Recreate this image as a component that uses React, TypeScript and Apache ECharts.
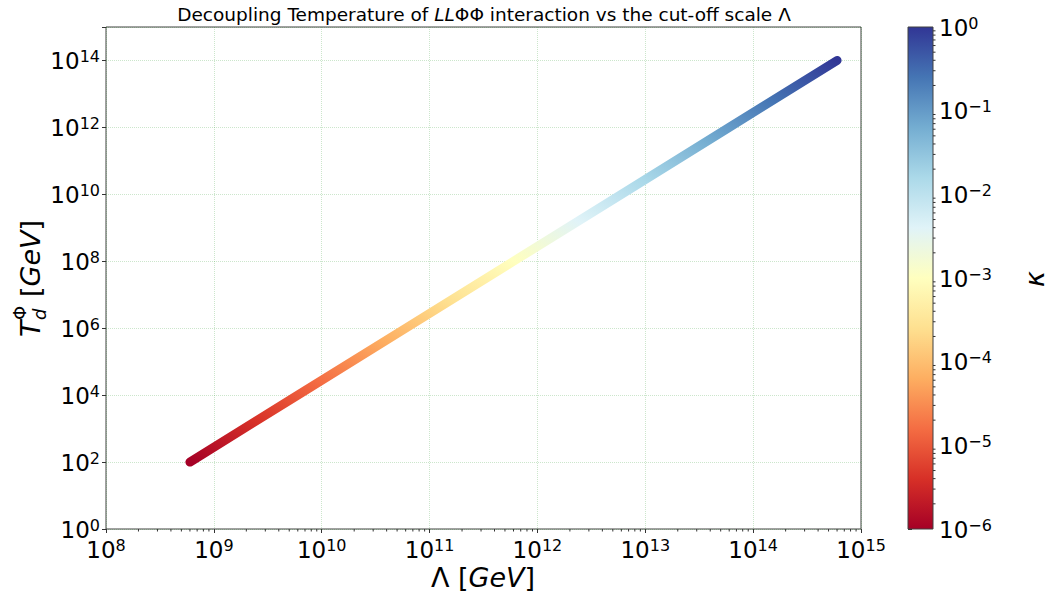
import React, { useEffect, useRef } from 'react';
import * as echarts from 'echarts';

// ---- data ----
const LAMBDA_GEV = [6.0e8, 6.0e9, 6.0e10, 6.0e11, 6.0e12, 6.0e13, 6.0e14];
const T_DEC_GEV = [1e2, 1e4, 1e6, 1e8, 1e10, 1e12, 1e14];
const KAPPA = [1e-6, 1e-5, 1e-4, 1e-3, 1e-2, 1e-1, 1];

// axis ranges / ticks
const X_MIN = 1e8;
const X_MAX = 1e15;
const Y_MIN = 1;
const Y_MAX = 1e15;
const K_MIN = 1e-6;
const K_MAX = 1;
const X_DECADES = [1e8, 1e9, 1e10, 1e11, 1e12, 1e13, 1e14];
const K_DECADES = [1e-6, 1e-5, 1e-4, 1e-3, 1e-2, 1e-1];
const MINOR_MULT = [2, 3, 4, 5, 6, 7, 8, 9];

// RdYlBu colormap anchors (0 -> 1)
const RDYLBU = ['#a50026', '#d73027', '#f46d43', '#fdae61', '#fee090', '#ffffbf', '#e0f3f8', '#abd9e9', '#74add1', '#4575b4', '#313695'];

const FONT = 'DejaVu Sans';

function hexToRgb(h: string) {
  const n = parseInt(h.slice(1), 16);
  return [(n >> 16) & 255, (n >> 8) & 255, n & 255];
}
function cmap(f: number) {
  const t = Math.max(0, Math.min(1, f)) * (RDYLBU.length - 1);
  const i = Math.min(Math.floor(t), RDYLBU.length - 2);
  const r = t - i;
  const a = hexToRgb(RDYLBU[i]);
  const b = hexToRgb(RDYLBU[i + 1]);
  const c = a.map((v, k) => Math.round(v + (b[k] - v) * r));
  return `rgb(${c[0]},${c[1]},${c[2]})`;
}

const lg = Math.log10;

// kappa (log) at a given log lambda, interpolated from the data points
function logKappaAt(lx: number) {
  const xs = LAMBDA_GEV.map(lg);
  const ks = KAPPA.map(lg);
  if (lx <= xs[0]) return ks[0];
  for (let i = 0; i < xs.length - 1; i++) {
    if (lx <= xs[i + 1]) {
      const r = (lx - xs[i]) / (xs[i + 1] - xs[i]);
      return ks[i] + (ks[i + 1] - ks[i]) * r;
    }
  }
  return ks[ks.length - 1];
}

function lineStops() {
  const x0 = lg(LAMBDA_GEV[0]);
  const x1 = lg(LAMBDA_GEV[LAMBDA_GEV.length - 1]);
  const stops: { offset: number; color: string }[] = [];
  const N = 40;
  for (let i = 0; i <= N; i++) {
    const s = i / N;
    const lk = logKappaAt(x0 + (x1 - x0) * s);
    stops.push({ offset: s, color: cmap((lk - lg(K_MIN)) / (lg(K_MAX) - lg(K_MIN))) });
  }
  return stops;
}

const tickRich = {
  b: { fontSize: 23, fontFamily: FONT, color: '#000', lineHeight: 24, verticalAlign: 'bottom' },
  s: { fontSize: 16, fontFamily: FONT, color: '#000', lineHeight: 12, verticalAlign: 'top' },
};
function powLabel(v: number) {
  const e = Math.round(lg(v));
  return `{b|10}{s|${e < 0 ? '\u2212' + -e : e}}`;
}

export default function App() {
  const ref = useRef<HTMLDivElement>(null);
  useEffect(() => {
    if (!ref.current) return;
    const chart = echarts.init(ref.current, null, { renderer: 'svg' });

    const minorX: number[][] = [];
    X_DECADES.forEach((d) => MINOR_MULT.forEach((m) => minorX.push([d * m, Y_MIN])));
    const minorK: number[][] = [];
    K_DECADES.forEach((d) => MINOR_MULT.forEach((m) => minorK.push([1, d * m])));

    const cbStops = RDYLBU.map((c, i) => ({ offset: i / (RDYLBU.length - 1), color: c }));

    const option: any = {
      animation: false,
      backgroundColor: '#fff',
      grid: [
        { left: 106, top: 27, width: 755, height: 502, show: true, borderColor: '#404040', borderWidth: 1, backgroundColor: 'transparent' },
        { left: 908, top: 27, width: 25, height: 502, show: false },
      ],
      xAxis: [
        {
          type: 'log', logBase: 10, min: X_MIN, max: X_MAX, gridIndex: 0,
          axisLine: { show: false },
          axisTick: { show: true, length: 4, lineStyle: { color: '#333' } },
          splitLine: { show: true, lineStyle: { color: 'rgba(0,128,0,0.2)', type: 'dotted', width: 1 } },
          axisLabel: { margin: 8, formatter: powLabel, rich: tickRich, showMinLabel: true, showMaxLabel: true },
        },
        { type: 'value', min: 0, max: 1, gridIndex: 1, show: false },
      ],
      yAxis: [
        {
          type: 'log', logBase: 10, min: Y_MIN, max: Y_MAX, interval: 2, gridIndex: 0,
          axisLine: { show: false },
          axisTick: { show: true, length: 4, lineStyle: { color: '#333' } },
          splitLine: { show: true, lineStyle: { color: 'rgba(0,128,0,0.2)', type: 'dotted', width: 1 } },
          axisLabel: {
            margin: 6,
            formatter: (v: number) => (Math.round(lg(v)) % 2 === 0 ? powLabel(v) : ''),
            rich: tickRich, showMinLabel: true, showMaxLabel: true,
          },
        },
        {
          type: 'log', logBase: 10, min: K_MIN, max: K_MAX, interval: 1, gridIndex: 1, position: 'right',
          axisLine: { show: false },
          axisTick: { show: true, length: 4, lineStyle: { color: '#333' } },
          splitLine: { show: false },
          axisLabel: { margin: 6, formatter: powLabel, rich: tickRich, showMinLabel: true, showMaxLabel: true },
        },
      ],
      series: [
        {
          type: 'line', xAxisIndex: 0, yAxisIndex: 0, z: 5,
          data: LAMBDA_GEV.map((x, i) => [x, T_DEC_GEV[i]]),
          showSymbol: false, symbol: 'none', clip: false,
          lineStyle: { width: 9, cap: 'round', join: 'round', color: new echarts.graphic.LinearGradient(0, 1, 1, 0, lineStops()) },
        },
        {
          type: 'custom', xAxisIndex: 0, yAxisIndex: 0, clip: false, silent: true,
          data: minorX,
          renderItem: (params: any, api: any) => {
            const p = api.coord([api.value(0), api.value(1)]);
            return { type: 'line', shape: { x1: p[0], y1: p[1], x2: p[0], y2: p[1] + 2.5 }, style: { stroke: '#333', lineWidth: 1 } };
          },
        },
        {
          type: 'custom', xAxisIndex: 1, yAxisIndex: 1, clip: false, silent: true,
          data: [[0.5, 1e-3]],
          renderItem: (params: any, api: any) => {
            const p0 = api.coord([0, K_MIN]);
            const p1 = api.coord([1, K_MAX]);
            return {
              type: 'rect',
              shape: { x: p0[0], y: p1[1], width: p1[0] - p0[0], height: p0[1] - p1[1] },
              style: { fill: new echarts.graphic.LinearGradient(0, 1, 0, 0, cbStops), stroke: '#404040', lineWidth: 1 },
            };
          },
        },
        {
          type: 'custom', xAxisIndex: 1, yAxisIndex: 1, clip: false, silent: true,
          data: minorK,
          renderItem: (params: any, api: any) => {
            const p = api.coord([api.value(0), api.value(1)]);
            return { type: 'line', shape: { x1: p[0], y1: p[1], x2: p[0] + 2.5, y2: p[1] }, style: { stroke: '#333', lineWidth: 1 } };
          },
        },
      ],
      graphic: [
        {
          type: 'text', x: 484, y: 14,
          style: {
            text: '{n|Decoupling Temperature of }{i|LL}{n|\u03a6\u03a6 interaction vs the cut-off scale \u039b}',
            align: 'center', verticalAlign: 'middle',
            rich: {
              n: { fontSize: 18.5, fontFamily: FONT, color: '#000' },
              i: { fontSize: 18.5, fontFamily: FONT, fontStyle: 'italic', color: '#000' },
            },
          },
        },
        {
          type: 'text', x: 483, y: 577,
          style: {
            text: '{n|\u039b [}{i|GeV}{n|]}',
            align: 'center', verticalAlign: 'middle',
            rich: {
              n: { fontSize: 27, fontFamily: FONT, color: '#000', lineHeight: 26 },
              i: { fontSize: 27, fontFamily: FONT, fontStyle: 'italic', color: '#000', lineHeight: 26 },
            },
          },
        },
        {
          type: 'group', x: 30, y: 277, rotation: Math.PI / 2,
          children: [
            { type: 'text', x: -60, y: 0, style: { text: 'T', font: `italic 27px "${FONT}"`, fill: '#000', align: 'left', verticalAlign: 'middle' } },
            { type: 'text', x: -43, y: -11, style: { text: '\u03a6', font: `18px "${FONT}"`, fill: '#000', align: 'left', verticalAlign: 'middle' } },
            { type: 'text', x: -43, y: 9, style: { text: 'd', font: `italic 18px "${FONT}"`, fill: '#000', align: 'left', verticalAlign: 'middle' } },
            {
              type: 'text', x: -20, y: 0,
              style: {
                text: '{n|[}{i|GeV}{n|]}', align: 'left', verticalAlign: 'middle',
                rich: {
                  n: { fontSize: 27, fontFamily: FONT, color: '#000' },
                  i: { fontSize: 27, fontFamily: FONT, fontStyle: 'italic', color: '#000' },
                },
              },
            },
          ],
        },
        {
          type: 'text', x: 1034, y: 279, rotation: Math.PI / 2,
          style: { text: '\u03ba', font: `italic 27px "${FONT}"`, fill: '#000', align: 'center', verticalAlign: 'middle' },
        },
      ],
    };
    chart.setOption(option);
    return () => chart.dispose();
  }, []);
  return <div ref={ref} style={{ width: 1049, height: 592, position: 'fixed', left: 0, top: 0 }} />;
}
